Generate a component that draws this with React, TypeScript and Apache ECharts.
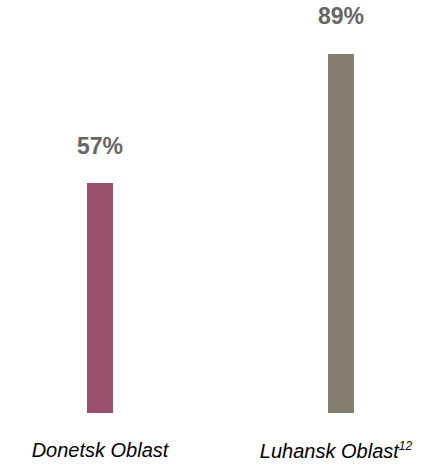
import React, { useEffect, useRef } from "react";
import * as echarts from "echarts";

const categories = ["Donetsk Oblast", "Luhansk Oblast"];
const footnotes = ["", "12"];
const values = [57, 89];
const barColors = ["#9A4F6D", "#827F6F"];

const FONT = "'Liberation Sans', Arial, sans-serif";

export default function App() {
  const ref = useRef<HTMLDivElement>(null);
  useEffect(() => {
    if (!ref.current) return;
    const chart = echarts.init(ref.current, undefined, { renderer: "svg" });
    chart.setOption({
      animation: false,
      grid: { left: 100, right: 91, top: 9.5, bottom: 52, containLabel: false },
      xAxis: {
        type: "category",
        boundaryGap: false,
        data: categories.map((c, i) =>
          footnotes[i] ? { value: c, textStyle: { padding: [0, 10, 0, 0] } } : c
        ),
        axisLine: { show: false },
        axisTick: { show: false },
        axisLabel: {
          margin: 27,
          interval: 0,
          formatter: (v: string, i: number) =>
            footnotes[i] ? `{a|${v}}{sup|${footnotes[i]}}` : `{a|${v}}`,
          rich: {
            a: { fontFamily: FONT, fontSize: 20, fontStyle: "italic", color: "#000" },
            sup: { fontFamily: FONT, fontSize: 12, fontStyle: "italic", color: "#000", verticalAlign: "top", padding: [0, 0, 9, 0] },
          },
        },
      },
      yAxis: {
        type: "value",
        min: 0,
        max: 100,
        show: false,
      },
      series: [
        {
          type: "bar",
          barWidth: 26,
          data: values.map((v, i) => ({ value: v, itemStyle: { color: barColors[i] } })),
          label: {
            show: true,
            position: "top",
            distance: 26,
            formatter: "{c}%",
            fontFamily: FONT,
            fontWeight: "bold",
            fontSize: 23,
            color: "#666666",
          },
        },
      ],
    });
    return () => chart.dispose();
  }, []);
  return (
    <div
      ref={ref}
      style={{ position: "fixed", left: 0, top: 0, width: 432, height: 465, background: "#fff" }}
    />
  );
}
